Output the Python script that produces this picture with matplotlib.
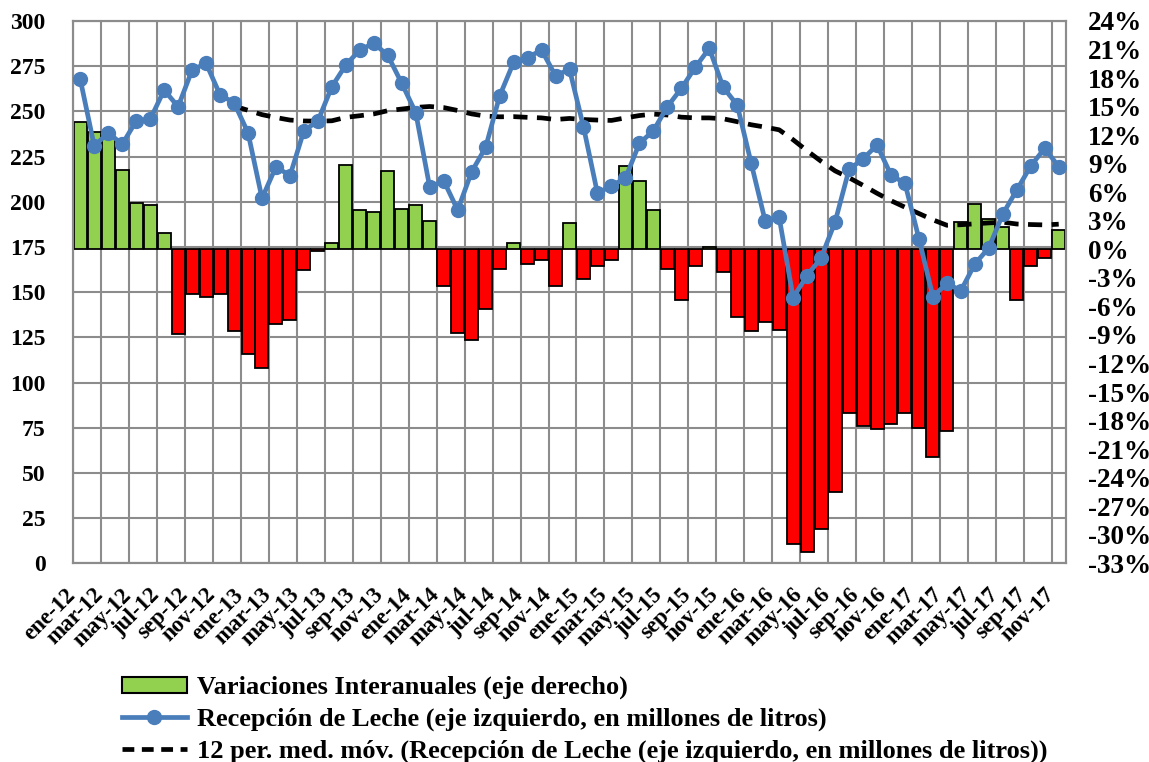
import matplotlib
matplotlib.use("Agg")
import matplotlib.pyplot as plt
from matplotlib.patches import Patch
from matplotlib.lines import Line2D
from matplotlib.transforms import ScaledTranslation
import numpy as np

plt.rcParams['font.family'] = ['Liberation Serif', 'DejaVu Serif']
plt.rcParams['font.weight'] = 'bold'

months = ['ene', 'feb', 'mar', 'abr', 'may', 'jun', 'jul', 'ago', 'sep', 'oct', 'nov', 'dic']
years = ['12', '13', '14', '15', '16', '17']
categories = [f"{m}-{y}" for y in years for m in months][:71]

# Recepción de Leche (millones de litros), left axis
reception = [267.7, 230.8, 238.2, 231.8, 244.7, 245.6, 261.8, 252.6, 272.9, 276.6, 259.1, 254.8,
             238.2, 201.9, 219.4, 214.4, 239.3, 244.7, 263.7, 275.7, 284.0, 287.7, 281.0, 265.5,
             249.3, 208.0, 211.7, 195.4, 216.6, 230.1, 258.5, 277.1, 279.7, 284.0, 269.7, 273.3,
             241.5, 204.7, 208.9, 213.0, 232.3, 239.3, 252.6, 262.7, 274.4, 284.9, 263.3, 253.5,
             221.3, 189.4, 191.4, 147.0, 159.2, 169.0, 188.8, 217.9, 223.7, 231.4, 214.8, 210.2,
             179.6, 147.5, 154.9, 150.8, 165.6, 174.5, 193.2, 206.5, 219.8, 229.6, 219.4]

# 12 per. med. móv. (starts at dic-12)
moving_avg = [None] * 11 + [
    253.0, 250.6, 248.2, 246.6, 245.2, 244.7, 244.6, 244.8, 246.7, 247.6, 248.6, 250.4,
    251.3, 252.2, 252.7, 252.1, 250.5, 248.6, 247.4, 247.0, 247.1, 246.7, 246.4, 245.5,
    246.1, 245.5, 245.2, 245.0, 246.4, 247.7, 248.5, 248.0, 246.8, 246.4, 246.4, 245.9,
    244.3, 242.6, 241.3, 239.8, 234.3, 228.2, 222.4, 217.1, 213.3, 209.1, 204.7, 200.6,
    197.0, 193.5, 190.0, 187.0, 187.3, 187.8, 188.3, 188.7, 187.7, 187.4, 187.2, 187.6]

# Variaciones interanuales (%), right axis
yoy = [13.4, 12.3, 11.8, 8.3, 4.9, 4.7, 1.7, -8.9, -4.7, -5.0, -4.7, -8.6,
       -11.0, -12.5, -7.9, -7.4, -2.2, -0.2, 0.7, 8.9, 4.1, 3.9, 8.2, 4.2,
       4.7, 3.0, -3.9, -8.8, -9.5, -6.3, -2.1, 0.7, -1.5, -1.1, -3.9, 2.8,
       -3.1, -1.8, -1.1, 8.8, 7.2, 4.1, -2.1, -5.3, -1.8, 0.2, -2.4, -7.1,
       -8.6, -7.6, -8.5, -31.0, -31.8, -29.4, -25.5, -17.2, -18.6, -18.9, -18.4, -17.2,
       -18.8, -21.8, -19.1, 2.9, 4.8, 3.2, 2.3, -5.3, -1.7, -0.9, 2.0]

left_ticks = list(range(0, 301, 25))
right_ticks = list(range(-33, 25, 3))

W, H = 1149, 762
fig = plt.figure(figsize=(W / 100, H / 100), dpi=100)
ax = fig.add_axes([73.3 / W, 1 - 563.3 / H, (1065.7 - 73.3) / W, (563.3 - 21) / H])
ax2 = ax.twinx()

x = np.arange(len(categories))
grid_c = '#8c8c8c'

# bars on base axes (right scale)
ax.set_ylim(-33, 24)
ax.set_xlim(-0.5, len(categories) - 0.5)
colors = ['#92D050' if v >= 0 else '#FF0000' for v in yoy]
ax.bar(x, yoy, width=0.93, color=colors, edgecolor='black', linewidth=1.3, zorder=3)

# horizontal gridlines matching left axis ticks (behind bars)
for v in left_ticks:
    ax.axhline(-33 + v * 57 / 300, color=grid_c, lw=1.5, zorder=1)
for k in np.arange(-0.5, len(categories), 2):
    ax.axvline(k, color=grid_c, lw=1.5, zorder=1)

ax.yaxis.tick_right()
ax.set_yticks(right_ticks)
ax.set_yticklabels([f"{t}%" for t in right_ticks])
ax.set_xticks(x[::2])
ax.set_xticklabels(categories[::2], rotation=45, ha='right', rotation_mode='anchor')
ax.tick_params(axis='x', length=0, labelsize=16.5, pad=0)
ax.tick_params(axis='y', length=0, labelsize=19.5, pad=16)
off = ScaledTranslation(-0.15, -0.21, fig.dpi_scale_trans)
for lab in ax.get_xticklabels():
    lab.set_transform(lab.get_transform() + off)

# line on twin axes (left scale)
ax2.set_ylim(0, 300)
ax2.yaxis.tick_left()
ax2.set_yticks(left_ticks)
ax2.tick_params(axis='y', length=0, labelsize=17, pad=20)
ax2.plot(x, reception, color='#4A7EBB', lw=3.4, marker='o', markersize=10, zorder=5)
ma = np.array([np.nan if v is None else v for v in moving_avg], dtype=float)
ax2.plot(x, ma, color='black', lw=3.4, ls=(0, (3, 2)), zorder=4)

for a in (ax, ax2):
    for s in a.spines.values():
        s.set_color(grid_c)
        s.set_linewidth(1.5)

handles = [
    Patch(facecolor='#92D050', edgecolor='black', linewidth=1.5),
    Line2D([0], [0], color='#4A7EBB', lw=3.4, marker='o', markersize=10),
    Line2D([0], [0], color='black', lw=3.4, ls=(0, (2.5, 1.6))),
]
labels = ['Variaciones Interanuales (eje derecho)',
          'Recepción de Leche (eje izquierdo, en millones de litros)',
          '12 per. med. móv. (Recepción de Leche (eje izquierdo, en millones de litros))']
fig.legend(handles, labels, loc='upper left', bbox_to_anchor=(122 / W, 1 - 676 / H),
           frameon=False, fontsize=19, handlelength=2.45, handletextpad=0.38,
           labelspacing=0.31, borderpad=0, borderaxespad=0, handleheight=0.55)

fig.savefig('out.png', dpi=100)
